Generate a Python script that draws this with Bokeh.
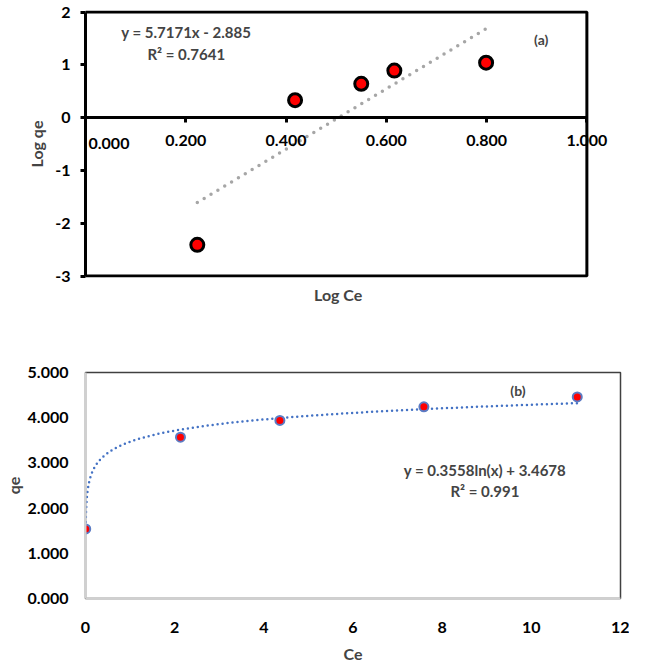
import numpy as np
from bokeh.plotting import figure
from bokeh.models import (Range1d, FixedTicker, Label, Title)
from bokeh.layouts import column
from bokeh.embed import file_html
from bokeh.resources import INLINE

# ---- data (a): Freundlich plot ----
log_ce = [0.223, 0.418, 0.550, 0.616, 0.799]
log_qe = [-2.41, 0.33, 0.64, 0.89, 1.04]
a_slope, a_intercept = 5.7171, -2.885
a_xlim = (0.0, 1.0)
a_ylim = (-3.0, 2.0)
a_xticks = [0.0, 0.2, 0.4, 0.6, 0.8, 1.0]
a_xlabels = ["0.000", "0.200", "0.400", "0.600", "0.800", "1.000"]
a_yticks = [-3, -2, -1, 0, 1, 2]
a_ylabels = ["-3", "-2", "-1", "0", "1", "2"]

# ---- data (b): Temkin plot ----
ce = [0.005, 2.13, 4.36, 7.59, 11.03]
qe = [1.54, 3.57, 3.94, 4.24, 4.46]
b_coef, b_const = 0.3558, 3.4678
b_xticks = [0, 2, 4, 6, 8, 10, 12]
b_xlabels = ["0", "2", "4", "6", "8", "10", "12"]
b_yticks = [0, 1, 2, 3, 4, 5]
b_ylabels = ["0.000", "1.000", "2.000", "3.000", "4.000", "5.000"]

FONT = "Lato"
W = 629
LEFT, RIGHT = 79, 9          # same side borders for both figures (column aligns frames)
lab_kw = dict(text_font=FONT, text_font_style="bold", text_font_size="16px", text_color="black")

# ================= figure (a) =================
HA, TOP_A, BOT_A = 310, 10, 33
frame_w = W - LEFT - RIGHT
box_w = 507                                  # px width of the boxed area 0..1
sx = box_w / (a_xlim[1] - a_xlim[0])
sy = (HA - TOP_A - BOT_A - 3) / (a_ylim[1] - a_ylim[0])
pad = 1.5 / sy
pa = figure(width=W, height=HA, output_backend="svg", toolbar_location=None,
            x_range=Range1d(a_xlim[0], a_xlim[0] + frame_w / sx),
            y_range=Range1d(a_ylim[0] - pad, a_ylim[1] + pad),
            min_border_left=LEFT, min_border_right=RIGHT, min_border_top=TOP_A, min_border_bottom=BOT_A)
pa.grid.visible = False
pa.outline_line_color = None
pa.background_fill_color = "white"

pa.quad(left=a_xlim[0], right=a_xlim[1], bottom=a_ylim[0], top=a_ylim[1],
        fill_color=None, line_color="black", line_width=3)

# x axis crossing at y = 0
xa = pa.xaxis[0]
xa.fixed_location = 0
xa.bounds = a_xlim
xa.ticker = FixedTicker(ticks=a_xticks)
xa.major_label_overrides = {t: (l if i > 0 else "") for i, (t, l) in enumerate(zip(a_xticks, a_xlabels))}
xa.axis_line_width = 3
xa.axis_line_color = "black"
xa.major_tick_line_width = 3
xa.major_tick_out = 5
xa.major_tick_in = 0
xa.minor_tick_line_color = None
xa.major_label_standoff = 12
xa.major_label_text_font = FONT
xa.major_label_text_font_style = "bold"
xa.major_label_text_font_size = "16px"
xa.major_label_text_color = "black"

pa.add_layout(Label(x=a_xticks[0], y=0, text=a_xlabels[0], x_offset=3, y_offset=-26,
                    text_align="left", text_baseline="middle", **lab_kw))

ya = pa.yaxis[0]
ya.bounds = a_ylim
ya.ticker = FixedTicker(ticks=a_yticks)
ya.major_label_overrides = {t: l for t, l in zip(a_yticks, a_ylabels)}
ya.axis_line_width = 3
ya.axis_line_color = "black"
ya.major_tick_line_width = 3
ya.major_tick_out = 5
ya.major_tick_in = 0
ya.minor_tick_line_color = None
ya.major_label_standoff = 10
ya.major_label_text_font = FONT
ya.major_label_text_font_style = "bold"
ya.major_label_text_font_size = "16px"
ya.major_label_text_color = "black"
ya.axis_label = "Log qe"
ya.axis_label_text_font = FONT
ya.axis_label_text_font_style = "bold"
ya.axis_label_text_font_size = "16px"
ya.axis_label_standoff = 6

t_a = Title(text="Log Ce", align="left", offset=(box_w - 50) / 2, text_font=FONT,
            text_font_style="bold", text_font_size="16px", standoff=10)
pa.add_layout(t_a, "below")

xs_a = np.array([min(log_ce), max(log_ce)])
pa.line(xs_a, a_slope * xs_a + a_intercept, line_color="#A6A6A6", line_width=3.5,
        line_dash="0 8", line_cap="round")
pa.scatter(log_ce, log_qe, size=13, fill_color="#FF0000", line_color="black", line_width=3)

for txt, yy in [("y = 5.7171x - 2.885", 1.62), ("R² = 0.7641", 1.20)]:
    pa.add_layout(Label(x=0.201, y=yy, text=txt, text_align="center", text_baseline="middle",
                        text_font=FONT, text_font_style="bold", text_font_size="15px"))
pa.add_layout(Label(x=0.909, y=1.47, text="(a)", text_align="center", text_baseline="middle",
                    text_font=FONT, text_font_style="bold", text_font_size="14px"))

# ================= figure (b) =================
pb = figure(width=W, height=355, output_backend="svg", toolbar_location=None,
            x_range=Range1d(b_xticks[0], b_xticks[-1]), y_range=Range1d(b_yticks[0], b_yticks[-1]),
            min_border_left=LEFT, min_border_right=RIGHT, min_border_top=62, min_border_bottom=62)
pb.grid.visible = False
pb.outline_line_color = "#404040"
pb.outline_line_width = 1.5

xb = pb.xaxis[0]
xb.ticker = FixedTicker(ticks=b_xticks)
xb.major_label_overrides = {t: l for t, l in zip(b_xticks, b_xlabels)}
xb.axis_line_color = "#D0D0D0"
xb.axis_line_width = 2
xb.major_tick_line_color = None
xb.minor_tick_line_color = None
xb.major_tick_out = 0
xb.major_label_standoff = 23
xb.major_label_text_font = FONT
xb.major_label_text_font_style = "bold"
xb.major_label_text_font_size = "16px"
xb.major_label_text_color = "black"
xb.axis_label = "Ce"
xb.axis_label_text_font = FONT
xb.axis_label_text_font_style = "bold"
xb.axis_label_text_font_size = "16px"
xb.axis_label_standoff = 8

yb = pb.yaxis[0]
yb.ticker = FixedTicker(ticks=b_yticks)
yb.major_label_overrides = {t: l for t, l in zip(b_yticks, b_ylabels)}
yb.axis_line_color = "#D0D0D0"
yb.axis_line_width = 2
yb.major_tick_line_color = None
yb.minor_tick_line_color = None
yb.major_tick_out = 0
yb.major_label_standoff = 17
yb.major_label_text_font = FONT
yb.major_label_text_font_style = "bold"
yb.major_label_text_font_size = "16px"
yb.major_label_text_color = "black"
yb.axis_label = "qe"
yb.axis_label_text_font = FONT
yb.axis_label_text_font_style = "bold"
yb.axis_label_text_font_size = "16px"
yb.axis_label_standoff = 2

xs_b = np.geomspace(min(ce), max(ce), 300)
pb.line(xs_b, b_coef * np.log(xs_b) + b_const, line_color="#4472C4", line_width=2.5,
        line_dash="0 5", line_cap="round")
pb.scatter(ce, qe, size=9, fill_color="#FF0000", line_color="#5B7BC4", line_width=2)

for txt, yy in [("y = 0.3558ln(x) + 3.4678", 2.84), ("R² = 0.991", 2.38)]:
    pb.add_layout(Label(x=8.96, y=yy, text=txt, text_align="center", text_baseline="middle",
                        text_font=FONT, text_font_style="bold", text_font_size="15px"))
pb.add_layout(Label(x=9.7, y=4.61, text="(b)", text_align="center", text_baseline="middle",
                    text_font=FONT, text_font_style="bold", text_font_size="14px"))

layout = column(pa, pb, spacing=0)
open("out.html", "w").write(file_html(layout, INLINE))
